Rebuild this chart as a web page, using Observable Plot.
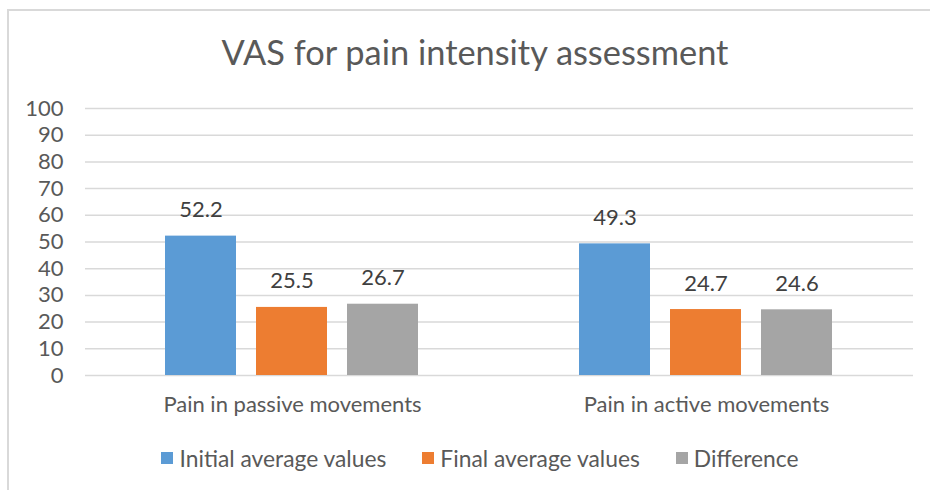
<!DOCTYPE html>
<html>
<head>
<meta charset="utf-8">
<script src="https://cdn.jsdelivr.net/npm/d3@7"></script>
<script src="https://cdn.jsdelivr.net/npm/@observablehq/plot@0.6"></script>
<style>
  html, body { margin: 0; padding: 0; background: #fff; }
  #wrap { position: relative; width: 930px; height: 490px; overflow: hidden; font-family: Lato, "Open Sans", sans-serif; }
  #frame { position: absolute; left: 7px; top: 9px; width: 940px; height: 500px; border-left: 2px solid #d9d9d9; border-top: 2px solid #d9d9d9; box-sizing: border-box; }
  #title { position: absolute; left: 0; top: 29px; width: 950px; text-align: center; font-size: 34.4px; color: #595959; line-height: 46px; }
  #chart { position: absolute; left: 0; top: 0; }
  #legend { position: absolute; left: 0; top: 446px; width: 960px; display: flex; justify-content: center; gap: 36px; font-size: 22.8px; color: #595959; line-height: 24px; }
  .item { display: flex; align-items: center; gap: 6px; }
  .sw { width: 12px; height: 12px; display: inline-block; }
</style>
</head>
<body>
<div id="wrap">
  <div id="frame"></div>
  <div id="chart"></div>
  <div id="title">VAS for pain intensity assessment</div>
  <div id="legend"></div>
</div>
<script>
const categories = ["Pain in passive movements", "Pain in active movements"];
const series = ["Initial average values", "Final average values", "Difference"];
const initialValues = [52.2, 49.3];
const finalValues = [25.5, 24.7];
const differenceValues = [26.7, 24.6];
const colors = ["#5B9BD5", "#ED7D31", "#A5A5A5"];
const yTicks = [0, 10, 20, 30, 40, 50, 60, 70, 80, 90, 100];

const seriesValues = [initialValues, finalValues, differenceValues];
const data = [];
categories.forEach((c, ci) => {
  series.forEach((s, si) => {
    data.push({category: c, series: s, value: seriesValues[si][ci]});
  });
});

const chart = Plot.plot({
  width: 930,
  height: 430,
  marginTop: 108,
  marginLeft: 84,
  marginRight: 17,
  marginBottom: 55,
  style: {fontFamily: "Lato, 'Open Sans', sans-serif", fontSize: "22px", color: "#595959", background: "transparent"},
  fx: {domain: categories, padding: 0, label: null, axis: "bottom", tickSize: 0, tickPadding: 21},
  x: {domain: series, axis: null, paddingInner: 0.217, paddingOuter: 0.861},
  y: {domain: [0, 100], ticks: yTicks, label: null},
  color: {domain: series, range: colors},
  marks: [
    Plot.ruleY(yTicks, {stroke: "#d9d9d9", strokeWidth: 1.5}),
    Plot.barY(data, {fx: "category", x: "series", y: "value", fill: "series"}),
    Plot.text(data, {fx: "category", x: "series", y: "value", text: d => d.value.toFixed(1), dy: -26, fill: "#404040", fontSize: 22}),
    Plot.axisY({ticks: yTicks, tickSize: 0, tickPadding: 22, fontSize: 22, fill: "#595959", label: null})
  ]
});
document.getElementById("chart").appendChild(chart);

const legend = document.getElementById("legend");
series.forEach((s, i) => {
  const it = document.createElement("div");
  it.className = "item";
  const sw = document.createElement("span");
  sw.className = "sw";
  sw.style.background = colors[i];
  const t = document.createElement("span");
  t.textContent = s;
  it.appendChild(sw); it.appendChild(t);
  legend.appendChild(it);
});
</script>
</body>
</html>
